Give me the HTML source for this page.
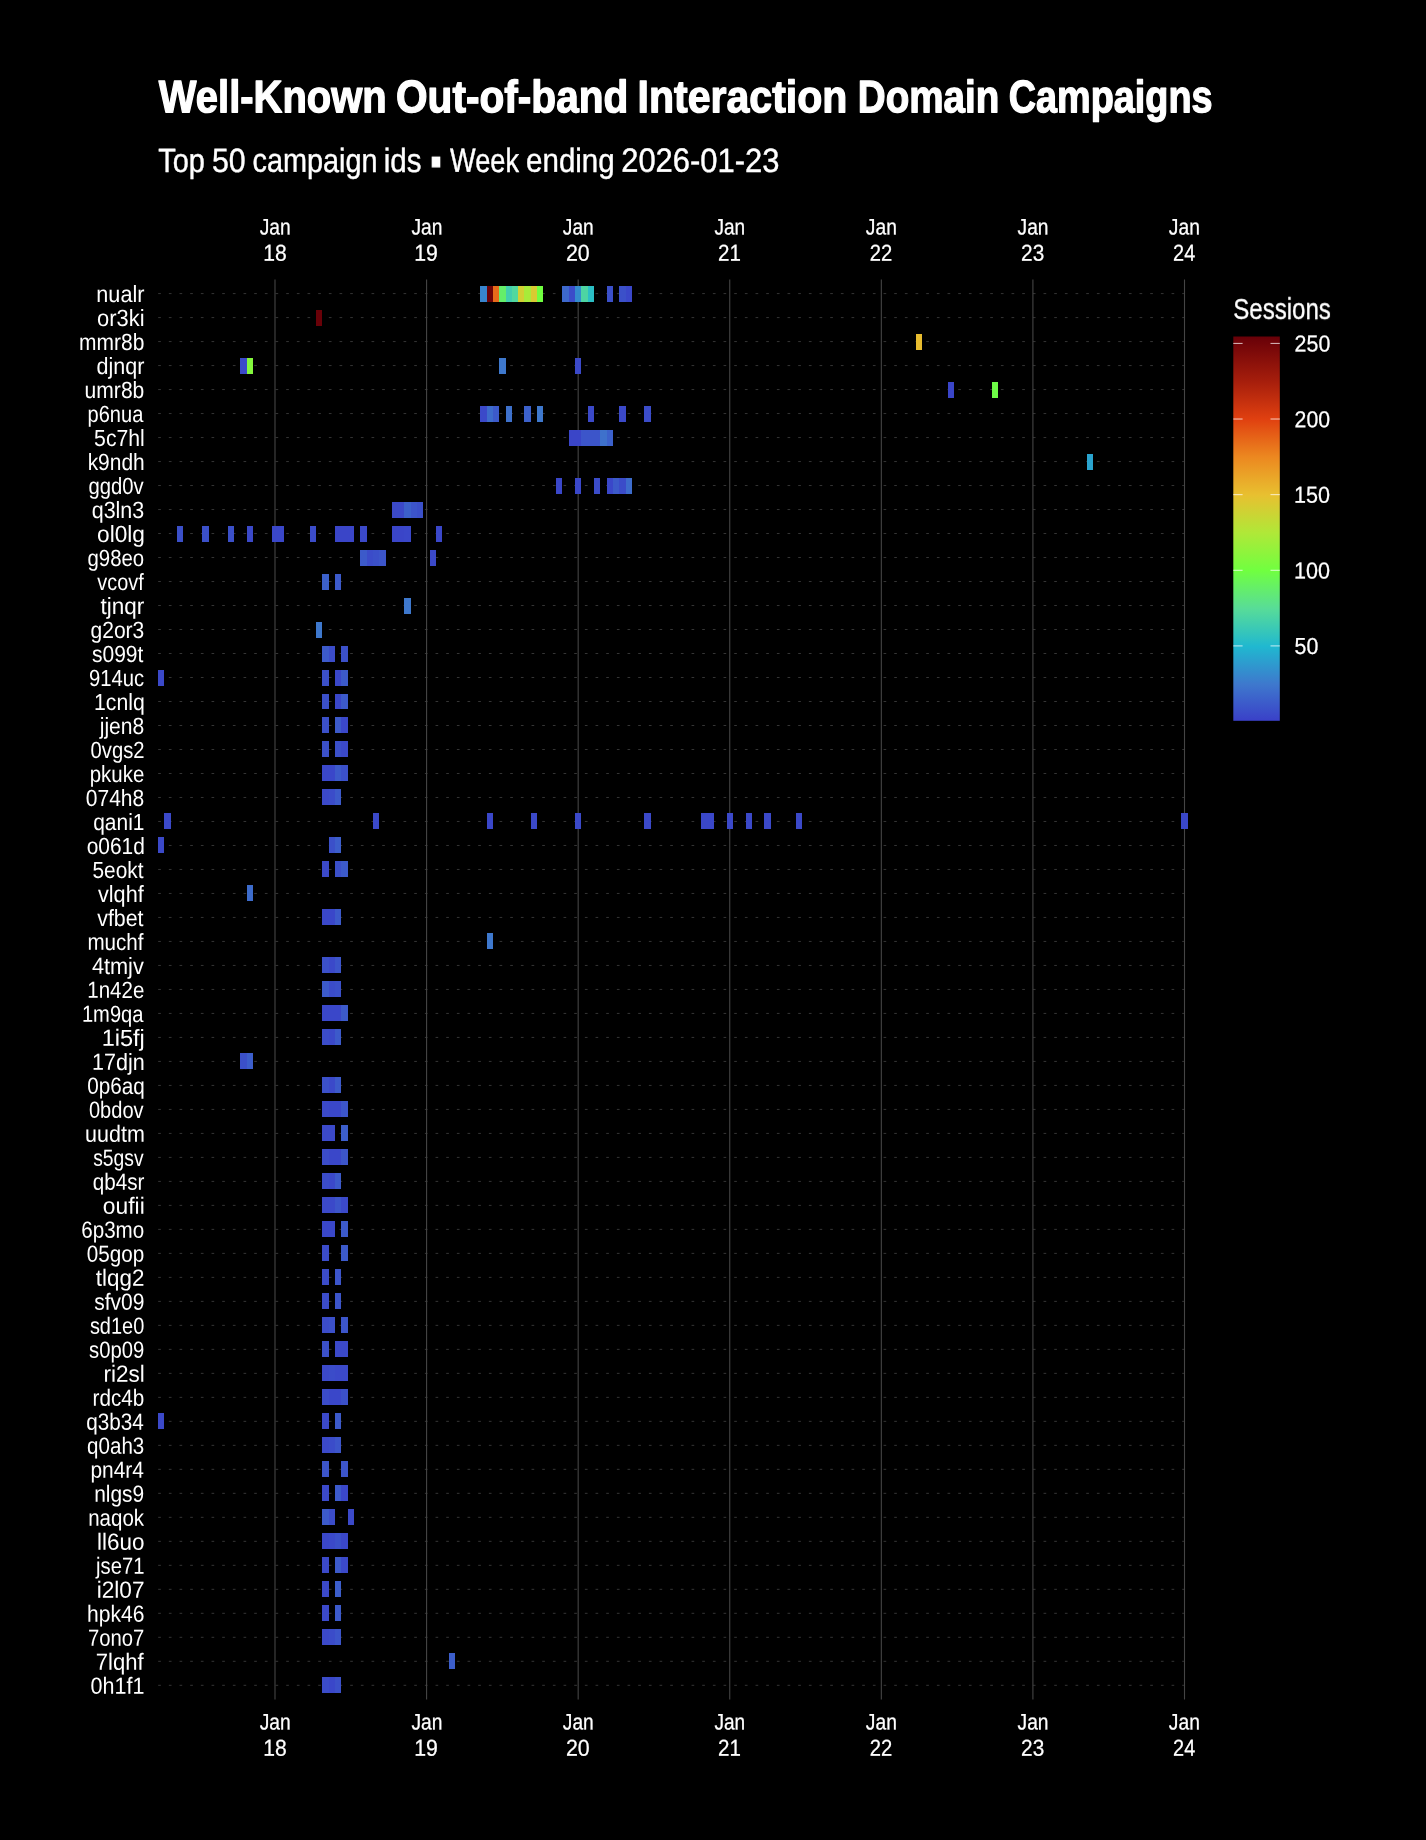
<!DOCTYPE html>
<html lang="en"><head><meta charset="utf-8"><title>Well-Known Out-of-band Interaction Domain Campaigns</title>
<style>html,body{margin:0;padding:0;background:#000;}body{width:1426px;height:1840px;overflow:hidden;}svg{display:block;}text{font-family:"Liberation Sans", sans-serif;fill:#fff;stroke-linejoin:round;}</style>
</head><body>
<svg style="will-change:transform" width="1426" height="1840" viewBox="0 0 1426 1840">
<rect width="1426" height="1840" fill="#000"/>
<defs><mask id="m" maskUnits="userSpaceOnUse" x="0" y="0" width="1426" height="1840"><rect width="1426" height="1840" fill="#fff"/></mask></defs>
<g mask="url(#m)">
<g stroke="#353535" stroke-width="1" stroke-dasharray="2.667 8" fill="none">
<line x1="158.20" y1="293.58" x2="1187.60" y2="293.58"/>
<line x1="158.20" y1="317.58" x2="1187.60" y2="317.58"/>
<line x1="158.20" y1="341.57" x2="1187.60" y2="341.57"/>
<line x1="158.20" y1="365.57" x2="1187.60" y2="365.57"/>
<line x1="158.20" y1="389.56" x2="1187.60" y2="389.56"/>
<line x1="158.20" y1="413.56" x2="1187.60" y2="413.56"/>
<line x1="158.20" y1="437.55" x2="1187.60" y2="437.55"/>
<line x1="158.20" y1="461.55" x2="1187.60" y2="461.55"/>
<line x1="158.20" y1="485.54" x2="1187.60" y2="485.54"/>
<line x1="158.20" y1="509.54" x2="1187.60" y2="509.54"/>
<line x1="158.20" y1="533.53" x2="1187.60" y2="533.53"/>
<line x1="158.20" y1="557.53" x2="1187.60" y2="557.53"/>
<line x1="158.20" y1="581.52" x2="1187.60" y2="581.52"/>
<line x1="158.20" y1="605.52" x2="1187.60" y2="605.52"/>
<line x1="158.20" y1="629.51" x2="1187.60" y2="629.51"/>
<line x1="158.20" y1="653.51" x2="1187.60" y2="653.51"/>
<line x1="158.20" y1="677.50" x2="1187.60" y2="677.50"/>
<line x1="158.20" y1="701.50" x2="1187.60" y2="701.50"/>
<line x1="158.20" y1="725.50" x2="1187.60" y2="725.50"/>
<line x1="158.20" y1="749.49" x2="1187.60" y2="749.49"/>
<line x1="158.20" y1="773.49" x2="1187.60" y2="773.49"/>
<line x1="158.20" y1="797.48" x2="1187.60" y2="797.48"/>
<line x1="158.20" y1="821.47" x2="1187.60" y2="821.47"/>
<line x1="158.20" y1="845.47" x2="1187.60" y2="845.47"/>
<line x1="158.20" y1="869.46" x2="1187.60" y2="869.46"/>
<line x1="158.20" y1="893.46" x2="1187.60" y2="893.46"/>
<line x1="158.20" y1="917.45" x2="1187.60" y2="917.45"/>
<line x1="158.20" y1="941.45" x2="1187.60" y2="941.45"/>
<line x1="158.20" y1="965.44" x2="1187.60" y2="965.44"/>
<line x1="158.20" y1="989.44" x2="1187.60" y2="989.44"/>
<line x1="158.20" y1="1013.43" x2="1187.60" y2="1013.43"/>
<line x1="158.20" y1="1037.43" x2="1187.60" y2="1037.43"/>
<line x1="158.20" y1="1061.42" x2="1187.60" y2="1061.42"/>
<line x1="158.20" y1="1085.42" x2="1187.60" y2="1085.42"/>
<line x1="158.20" y1="1109.41" x2="1187.60" y2="1109.41"/>
<line x1="158.20" y1="1133.41" x2="1187.60" y2="1133.41"/>
<line x1="158.20" y1="1157.40" x2="1187.60" y2="1157.40"/>
<line x1="158.20" y1="1181.40" x2="1187.60" y2="1181.40"/>
<line x1="158.20" y1="1205.39" x2="1187.60" y2="1205.39"/>
<line x1="158.20" y1="1229.39" x2="1187.60" y2="1229.39"/>
<line x1="158.20" y1="1253.38" x2="1187.60" y2="1253.38"/>
<line x1="158.20" y1="1277.38" x2="1187.60" y2="1277.38"/>
<line x1="158.20" y1="1301.38" x2="1187.60" y2="1301.38"/>
<line x1="158.20" y1="1325.37" x2="1187.60" y2="1325.37"/>
<line x1="158.20" y1="1349.37" x2="1187.60" y2="1349.37"/>
<line x1="158.20" y1="1373.36" x2="1187.60" y2="1373.36"/>
<line x1="158.20" y1="1397.36" x2="1187.60" y2="1397.36"/>
<line x1="158.20" y1="1421.35" x2="1187.60" y2="1421.35"/>
<line x1="158.20" y1="1445.35" x2="1187.60" y2="1445.35"/>
<line x1="158.20" y1="1469.34" x2="1187.60" y2="1469.34"/>
<line x1="158.20" y1="1493.34" x2="1187.60" y2="1493.34"/>
<line x1="158.20" y1="1517.33" x2="1187.60" y2="1517.33"/>
<line x1="158.20" y1="1541.33" x2="1187.60" y2="1541.33"/>
<line x1="158.20" y1="1565.32" x2="1187.60" y2="1565.32"/>
<line x1="158.20" y1="1589.32" x2="1187.60" y2="1589.32"/>
<line x1="158.20" y1="1613.31" x2="1187.60" y2="1613.31"/>
<line x1="158.20" y1="1637.31" x2="1187.60" y2="1637.31"/>
<line x1="158.20" y1="1661.30" x2="1187.60" y2="1661.30"/>
<line x1="158.20" y1="1685.30" x2="1187.60" y2="1685.30"/>
</g>
<g stroke="#454545" stroke-width="1.1" fill="none">
<line x1="275.00" y1="279.40" x2="275.00" y2="1699.50"/>
<line x1="426.58" y1="279.40" x2="426.58" y2="1699.50"/>
<line x1="578.17" y1="279.40" x2="578.17" y2="1699.50"/>
<line x1="729.75" y1="279.40" x2="729.75" y2="1699.50"/>
<line x1="881.33" y1="279.40" x2="881.33" y2="1699.50"/>
<line x1="1032.91" y1="279.40" x2="1032.91" y2="1699.50"/>
<line x1="1184.50" y1="279.40" x2="1184.50" y2="1699.50"/>
</g>
<g>
<rect x="480" y="286" width="7" height="16" fill="#3885ce"/>
<rect x="487" y="286" width="6" height="16" fill="#6d0308"/>
<rect x="493" y="286" width="6" height="16" fill="#e76b1a"/>
<rect x="499" y="286" width="7" height="16" fill="#64ee6a"/>
<rect x="506" y="286" width="6" height="16" fill="#42ceae"/>
<rect x="512" y="286" width="6" height="16" fill="#51d89f"/>
<rect x="518" y="286" width="6" height="16" fill="#d2d033"/>
<rect x="524" y="286" width="7" height="16" fill="#a8eb39"/>
<rect x="531" y="286" width="6" height="16" fill="#d8cb32"/>
<rect x="537" y="286" width="6" height="16" fill="#70ff40"/>
<rect x="562" y="286" width="7" height="16" fill="#3d68cc"/>
<rect x="569" y="286" width="6" height="16" fill="#3b4cc9"/>
<rect x="575" y="286" width="6" height="16" fill="#348cce"/>
<rect x="581" y="286" width="7" height="16" fill="#4dd5a3"/>
<rect x="588" y="286" width="6" height="16" fill="#2bbfc5"/>
<rect x="607" y="286" width="6" height="16" fill="#3b50c9"/>
<rect x="619" y="286" width="7" height="16" fill="#3b50c9"/>
<rect x="626" y="286" width="6" height="16" fill="#3a47c9"/>
<rect x="316" y="310" width="6" height="16" fill="#690108"/>
<rect x="916" y="334" width="6" height="16" fill="#e8bc2f"/>
<rect x="240" y="358" width="7" height="16" fill="#3b49c9"/>
<rect x="247" y="358" width="6" height="16" fill="#84f83d"/>
<rect x="499" y="358" width="7" height="16" fill="#3e78cd"/>
<rect x="575" y="358" width="6" height="16" fill="#3b49c9"/>
<rect x="948" y="382" width="6" height="16" fill="#3a45c8"/>
<rect x="992" y="382" width="6" height="16" fill="#6efc47"/>
<rect x="480" y="406" width="7" height="16" fill="#3b49c9"/>
<rect x="487" y="406" width="6" height="16" fill="#3d6ccc"/>
<rect x="493" y="406" width="6" height="16" fill="#3c5aca"/>
<rect x="506" y="406" width="6" height="16" fill="#3e71cc"/>
<rect x="524" y="406" width="7" height="16" fill="#3c61cb"/>
<rect x="537" y="406" width="6" height="16" fill="#3e78cd"/>
<rect x="588" y="406" width="6" height="16" fill="#3b49c9"/>
<rect x="619" y="406" width="7" height="16" fill="#3b49c9"/>
<rect x="644" y="406" width="7" height="16" fill="#3b4cc9"/>
<rect x="569" y="430" width="6" height="16" fill="#3a45c8"/>
<rect x="575" y="430" width="6" height="16" fill="#3a45c8"/>
<rect x="581" y="430" width="7" height="16" fill="#3c55ca"/>
<rect x="588" y="430" width="6" height="16" fill="#3c55ca"/>
<rect x="594" y="430" width="6" height="16" fill="#3c55ca"/>
<rect x="600" y="430" width="7" height="16" fill="#3e71cc"/>
<rect x="607" y="430" width="6" height="16" fill="#3c61cb"/>
<rect x="1087" y="454" width="6" height="16" fill="#2aa4cf"/>
<rect x="556" y="478" width="6" height="16" fill="#3a47c9"/>
<rect x="575" y="478" width="6" height="16" fill="#3a47c9"/>
<rect x="594" y="478" width="6" height="16" fill="#3b4cc9"/>
<rect x="607" y="478" width="6" height="16" fill="#3a47c9"/>
<rect x="613" y="478" width="6" height="16" fill="#3c5aca"/>
<rect x="619" y="478" width="7" height="16" fill="#3b4cc9"/>
<rect x="626" y="478" width="6" height="16" fill="#3d6ccc"/>
<rect x="392" y="502" width="6" height="16" fill="#3b49c9"/>
<rect x="398" y="502" width="6" height="16" fill="#3b49c9"/>
<rect x="404" y="502" width="7" height="16" fill="#3c61cb"/>
<rect x="411" y="502" width="6" height="16" fill="#3c55ca"/>
<rect x="417" y="502" width="6" height="16" fill="#3b50c9"/>
<rect x="177" y="526" width="6" height="16" fill="#3b50c9"/>
<rect x="202" y="526" width="7" height="16" fill="#3b50c9"/>
<rect x="228" y="526" width="6" height="16" fill="#3b50c9"/>
<rect x="247" y="526" width="6" height="16" fill="#3b49c9"/>
<rect x="272" y="526" width="6" height="16" fill="#3a47c9"/>
<rect x="278" y="526" width="6" height="16" fill="#3a47c9"/>
<rect x="310" y="526" width="6" height="16" fill="#3b4cc9"/>
<rect x="335" y="526" width="6" height="16" fill="#3a45c8"/>
<rect x="341" y="526" width="7" height="16" fill="#3a45c8"/>
<rect x="348" y="526" width="6" height="16" fill="#3a45c8"/>
<rect x="360" y="526" width="7" height="16" fill="#3b49c9"/>
<rect x="392" y="526" width="6" height="16" fill="#3a45c8"/>
<rect x="398" y="526" width="6" height="16" fill="#3a45c8"/>
<rect x="404" y="526" width="7" height="16" fill="#3a47c9"/>
<rect x="436" y="526" width="6" height="16" fill="#3a47c9"/>
<rect x="360" y="550" width="7" height="16" fill="#3c5aca"/>
<rect x="367" y="550" width="6" height="16" fill="#3b4cc9"/>
<rect x="373" y="550" width="6" height="16" fill="#3b50c9"/>
<rect x="379" y="550" width="7" height="16" fill="#3c55ca"/>
<rect x="430" y="550" width="6" height="16" fill="#3b49c9"/>
<rect x="322" y="574" width="7" height="16" fill="#3c61cb"/>
<rect x="335" y="574" width="6" height="16" fill="#3c5aca"/>
<rect x="404" y="598" width="7" height="16" fill="#3e78cd"/>
<rect x="316" y="622" width="6" height="16" fill="#3e78cd"/>
<rect x="322" y="646" width="7" height="16" fill="#3c5aca"/>
<rect x="329" y="646" width="6" height="16" fill="#3b4cc9"/>
<rect x="341" y="646" width="7" height="16" fill="#3b50c9"/>
<rect x="158" y="670" width="6" height="16" fill="#3b49c9"/>
<rect x="322" y="670" width="7" height="16" fill="#3b50c9"/>
<rect x="335" y="670" width="6" height="16" fill="#3a47c9"/>
<rect x="341" y="670" width="7" height="16" fill="#3c5aca"/>
<rect x="322" y="694" width="7" height="15" fill="#3b50c9"/>
<rect x="335" y="694" width="6" height="15" fill="#3a47c9"/>
<rect x="341" y="694" width="7" height="15" fill="#3c5aca"/>
<rect x="322" y="717" width="7" height="16" fill="#3b50c9"/>
<rect x="335" y="717" width="6" height="16" fill="#3c5aca"/>
<rect x="341" y="717" width="7" height="16" fill="#3a47c9"/>
<rect x="322" y="741" width="7" height="16" fill="#3b50c9"/>
<rect x="335" y="741" width="6" height="16" fill="#3b50c9"/>
<rect x="341" y="741" width="7" height="16" fill="#3b49c9"/>
<rect x="322" y="765" width="7" height="16" fill="#3a47c9"/>
<rect x="329" y="765" width="6" height="16" fill="#3a47c9"/>
<rect x="335" y="765" width="6" height="16" fill="#3c5aca"/>
<rect x="341" y="765" width="7" height="16" fill="#3b50c9"/>
<rect x="322" y="789" width="7" height="16" fill="#3b49c9"/>
<rect x="329" y="789" width="6" height="16" fill="#3b4cc9"/>
<rect x="335" y="789" width="6" height="16" fill="#3c5aca"/>
<rect x="164" y="813" width="7" height="16" fill="#3b49c9"/>
<rect x="373" y="813" width="6" height="16" fill="#3b49c9"/>
<rect x="487" y="813" width="6" height="16" fill="#3a47c9"/>
<rect x="531" y="813" width="6" height="16" fill="#3b49c9"/>
<rect x="575" y="813" width="6" height="16" fill="#3b49c9"/>
<rect x="644" y="813" width="7" height="16" fill="#3b49c9"/>
<rect x="701" y="813" width="7" height="16" fill="#3a47c9"/>
<rect x="708" y="813" width="6" height="16" fill="#3a47c9"/>
<rect x="727" y="813" width="6" height="16" fill="#3b49c9"/>
<rect x="746" y="813" width="6" height="16" fill="#3b49c9"/>
<rect x="764" y="813" width="7" height="16" fill="#3b49c9"/>
<rect x="796" y="813" width="6" height="16" fill="#3b49c9"/>
<rect x="1181" y="813" width="7" height="16" fill="#3a47c9"/>
<rect x="158" y="837" width="6" height="16" fill="#3b49c9"/>
<rect x="329" y="837" width="6" height="16" fill="#3b50c9"/>
<rect x="335" y="837" width="6" height="16" fill="#3c5ecb"/>
<rect x="322" y="861" width="7" height="16" fill="#3b49c9"/>
<rect x="335" y="861" width="6" height="16" fill="#3b50c9"/>
<rect x="341" y="861" width="7" height="16" fill="#3c5aca"/>
<rect x="247" y="885" width="6" height="16" fill="#3d6ccc"/>
<rect x="322" y="909" width="7" height="16" fill="#3a47c9"/>
<rect x="329" y="909" width="6" height="16" fill="#3a47c9"/>
<rect x="335" y="909" width="6" height="16" fill="#3c5aca"/>
<rect x="487" y="933" width="6" height="16" fill="#3e78cd"/>
<rect x="322" y="957" width="7" height="16" fill="#3b50c9"/>
<rect x="329" y="957" width="6" height="16" fill="#3b49c9"/>
<rect x="335" y="957" width="6" height="16" fill="#3c55ca"/>
<rect x="322" y="981" width="7" height="16" fill="#3c5aca"/>
<rect x="329" y="981" width="6" height="16" fill="#3b4cc9"/>
<rect x="335" y="981" width="6" height="16" fill="#3b50c9"/>
<rect x="322" y="1005" width="7" height="16" fill="#3a47c9"/>
<rect x="329" y="1005" width="6" height="16" fill="#3a47c9"/>
<rect x="335" y="1005" width="6" height="16" fill="#3a47c9"/>
<rect x="341" y="1005" width="7" height="16" fill="#3c5aca"/>
<rect x="322" y="1029" width="7" height="16" fill="#3b4cc9"/>
<rect x="329" y="1029" width="6" height="16" fill="#3b49c9"/>
<rect x="335" y="1029" width="6" height="16" fill="#3c5aca"/>
<rect x="240" y="1053" width="7" height="16" fill="#3b50c9"/>
<rect x="247" y="1053" width="6" height="16" fill="#3c5ecb"/>
<rect x="322" y="1077" width="7" height="16" fill="#3b50c9"/>
<rect x="329" y="1077" width="6" height="16" fill="#3b49c9"/>
<rect x="335" y="1077" width="6" height="16" fill="#3c5aca"/>
<rect x="322" y="1101" width="7" height="16" fill="#3b49c9"/>
<rect x="329" y="1101" width="6" height="16" fill="#3a47c9"/>
<rect x="335" y="1101" width="6" height="16" fill="#3a47c9"/>
<rect x="341" y="1101" width="7" height="16" fill="#3c55ca"/>
<rect x="322" y="1125" width="7" height="16" fill="#3b49c9"/>
<rect x="329" y="1125" width="6" height="16" fill="#3b49c9"/>
<rect x="341" y="1125" width="7" height="16" fill="#3c5ecb"/>
<rect x="322" y="1149" width="7" height="16" fill="#3b4cc9"/>
<rect x="329" y="1149" width="6" height="16" fill="#3a47c9"/>
<rect x="335" y="1149" width="6" height="16" fill="#3a47c9"/>
<rect x="341" y="1149" width="7" height="16" fill="#3c55ca"/>
<rect x="322" y="1173" width="7" height="16" fill="#3b4cc9"/>
<rect x="329" y="1173" width="6" height="16" fill="#3b49c9"/>
<rect x="335" y="1173" width="6" height="16" fill="#3c5aca"/>
<rect x="322" y="1197" width="7" height="16" fill="#3b49c9"/>
<rect x="329" y="1197" width="6" height="16" fill="#3b49c9"/>
<rect x="335" y="1197" width="6" height="16" fill="#3c55ca"/>
<rect x="341" y="1197" width="7" height="16" fill="#3b49c9"/>
<rect x="322" y="1221" width="7" height="16" fill="#3a47c9"/>
<rect x="329" y="1221" width="6" height="16" fill="#3a47c9"/>
<rect x="341" y="1221" width="7" height="16" fill="#3c5aca"/>
<rect x="322" y="1245" width="7" height="16" fill="#3b4cc9"/>
<rect x="341" y="1245" width="7" height="16" fill="#3c5aca"/>
<rect x="322" y="1269" width="7" height="16" fill="#3b4cc9"/>
<rect x="335" y="1269" width="6" height="16" fill="#3c55ca"/>
<rect x="322" y="1293" width="7" height="16" fill="#3b4cc9"/>
<rect x="335" y="1293" width="6" height="16" fill="#3c55ca"/>
<rect x="322" y="1317" width="7" height="16" fill="#3b4cc9"/>
<rect x="329" y="1317" width="6" height="16" fill="#3b50c9"/>
<rect x="341" y="1317" width="7" height="16" fill="#3c55ca"/>
<rect x="322" y="1341" width="7" height="16" fill="#3b50c9"/>
<rect x="335" y="1341" width="6" height="16" fill="#3b49c9"/>
<rect x="341" y="1341" width="7" height="16" fill="#3b49c9"/>
<rect x="322" y="1365" width="7" height="16" fill="#3b49c9"/>
<rect x="329" y="1365" width="6" height="16" fill="#3b4cc9"/>
<rect x="335" y="1365" width="6" height="16" fill="#3b49c9"/>
<rect x="341" y="1365" width="7" height="16" fill="#3b49c9"/>
<rect x="322" y="1389" width="7" height="16" fill="#3b4cc9"/>
<rect x="329" y="1389" width="6" height="16" fill="#3a47c9"/>
<rect x="335" y="1389" width="6" height="16" fill="#3a47c9"/>
<rect x="341" y="1389" width="7" height="16" fill="#3b50c9"/>
<rect x="158" y="1413" width="6" height="16" fill="#3b49c9"/>
<rect x="322" y="1413" width="7" height="16" fill="#3b49c9"/>
<rect x="335" y="1413" width="6" height="16" fill="#3c5aca"/>
<rect x="322" y="1437" width="7" height="16" fill="#3b49c9"/>
<rect x="329" y="1437" width="6" height="16" fill="#3b4cc9"/>
<rect x="335" y="1437" width="6" height="16" fill="#3c55ca"/>
<rect x="322" y="1461" width="7" height="16" fill="#3c55ca"/>
<rect x="341" y="1461" width="7" height="16" fill="#3c55ca"/>
<rect x="322" y="1485" width="7" height="16" fill="#3b49c9"/>
<rect x="335" y="1485" width="6" height="16" fill="#3c5aca"/>
<rect x="341" y="1485" width="7" height="16" fill="#3a47c9"/>
<rect x="322" y="1509" width="7" height="16" fill="#3c5aca"/>
<rect x="329" y="1509" width="6" height="16" fill="#3b4cc9"/>
<rect x="348" y="1509" width="6" height="16" fill="#3b49c9"/>
<rect x="322" y="1533" width="7" height="16" fill="#3a47c9"/>
<rect x="329" y="1533" width="6" height="16" fill="#3b49c9"/>
<rect x="335" y="1533" width="6" height="16" fill="#3b50c9"/>
<rect x="341" y="1533" width="7" height="16" fill="#3a47c9"/>
<rect x="322" y="1557" width="7" height="16" fill="#3b49c9"/>
<rect x="335" y="1557" width="6" height="16" fill="#3c5aca"/>
<rect x="341" y="1557" width="7" height="16" fill="#3b49c9"/>
<rect x="322" y="1581" width="7" height="16" fill="#3b49c9"/>
<rect x="335" y="1581" width="6" height="16" fill="#3c5ecb"/>
<rect x="322" y="1605" width="7" height="16" fill="#3b49c9"/>
<rect x="335" y="1605" width="6" height="16" fill="#3c5aca"/>
<rect x="322" y="1629" width="7" height="16" fill="#3b49c9"/>
<rect x="329" y="1629" width="6" height="16" fill="#3b4cc9"/>
<rect x="335" y="1629" width="6" height="16" fill="#3c55ca"/>
<rect x="449" y="1653" width="6" height="16" fill="#3c5ecb"/>
<rect x="322" y="1677" width="7" height="16" fill="#3b4cc9"/>
<rect x="329" y="1677" width="6" height="16" fill="#3a47c9"/>
<rect x="335" y="1677" width="6" height="16" fill="#3b50c9"/>
</g>
<g class="title">
<text transform="translate(272.76 112.25) skewY(0.06)" x="-113.94" font-size="45.5" textLength="227.87" lengthAdjust="spacingAndGlyphs" font-weight="bold" stroke="#fff" stroke-width="1.30">Well-Known</text>
<text transform="translate(512.17 112.25) skewY(0.06)" x="-116.20" font-size="45.5" textLength="232.40" lengthAdjust="spacingAndGlyphs" font-weight="bold" stroke="#fff" stroke-width="1.30">Out-of-band</text>
<text transform="translate(742.48 112.25) skewY(0.06)" x="-104.89" font-size="45.5" textLength="209.79" lengthAdjust="spacingAndGlyphs" font-weight="bold" stroke="#fff" stroke-width="1.30">Interaction</text>
<text transform="translate(928.61 112.25) skewY(0.06)" x="-70.81" font-size="45.5" textLength="141.61" lengthAdjust="spacingAndGlyphs" font-weight="bold" stroke="#fff" stroke-width="1.30">Domain</text>
<text transform="translate(1110.59 112.25) skewY(0.06)" x="-101.94" font-size="45.5" textLength="203.89" lengthAdjust="spacingAndGlyphs" font-weight="bold" stroke="#fff" stroke-width="1.30">Campaigns</text>
</g>
<g class="sub">
<text transform="translate(436.05 175.60) skewY(0.06)" x="-6.11" font-size="44.0" textLength="12.21" lengthAdjust="spacingAndGlyphs">▪</text>
<text transform="translate(181.58 171.90) skewY(0.06)" x="-23.28" font-size="33.7" textLength="46.56" lengthAdjust="spacingAndGlyphs" stroke="#fff" stroke-width="0.40">Top</text>
<text transform="translate(228.78 171.90) skewY(0.06)" x="-16.87" font-size="33.7" textLength="33.74" lengthAdjust="spacingAndGlyphs" stroke="#fff" stroke-width="0.40">50</text>
<text transform="translate(314.99 171.90) skewY(0.06)" x="-62.53" font-size="33.7" textLength="125.07" lengthAdjust="spacingAndGlyphs" stroke="#fff" stroke-width="0.40">campaign</text>
<text transform="translate(402.58 171.90) skewY(0.06)" x="-18.89" font-size="33.7" textLength="37.78" lengthAdjust="spacingAndGlyphs" stroke="#fff" stroke-width="0.40">ids</text>
<text transform="translate(484.52 171.90) skewY(0.06)" x="-34.48" font-size="33.7" textLength="68.95" lengthAdjust="spacingAndGlyphs" stroke="#fff" stroke-width="0.40">Week</text>
<text transform="translate(570.37 171.90) skewY(0.06)" x="-44.31" font-size="33.7" textLength="88.62" lengthAdjust="spacingAndGlyphs" stroke="#fff" stroke-width="0.40">ending</text>
<text transform="translate(700.33 171.90) skewY(0.06)" x="-79.16" font-size="33.7" textLength="158.32" lengthAdjust="spacingAndGlyphs" stroke="#fff" stroke-width="0.40">2026-01-23</text>
</g>
<g class="ylab">
<text transform="translate(120.36 302.03) skewY(0.06)" x="-24.06" font-size="23.4" textLength="48.12" lengthAdjust="spacingAndGlyphs">nualr</text>
<text transform="translate(120.79 326.03) skewY(0.06)" x="-23.74" font-size="23.4" textLength="47.48" lengthAdjust="spacingAndGlyphs">or3ki</text>
<text transform="translate(111.68 350.02) skewY(0.06)" x="-32.62" font-size="23.4" textLength="65.23" lengthAdjust="spacingAndGlyphs">mmr8b</text>
<text transform="translate(120.35 374.02) skewY(0.06)" x="-23.96" font-size="23.4" textLength="47.92" lengthAdjust="spacingAndGlyphs">djnqr</text>
<text transform="translate(114.47 398.01) skewY(0.06)" x="-29.86" font-size="23.4" textLength="59.72" lengthAdjust="spacingAndGlyphs">umr8b</text>
<text transform="translate(115.41 422.01) skewY(0.06)" x="-27.84" font-size="23.4" textLength="55.69" lengthAdjust="spacingAndGlyphs">p6nua</text>
<text transform="translate(119.48 446.00) skewY(0.06)" x="-25.36" font-size="23.4" textLength="50.71" lengthAdjust="spacingAndGlyphs">5c7hl</text>
<text transform="translate(116.19 470.00) skewY(0.06)" x="-28.55" font-size="23.4" textLength="57.11" lengthAdjust="spacingAndGlyphs">k9ndh</text>
<text transform="translate(116.06 493.99) skewY(0.06)" x="-27.61" font-size="23.4" textLength="55.23" lengthAdjust="spacingAndGlyphs">ggd0v</text>
<text transform="translate(117.97 517.99) skewY(0.06)" x="-26.30" font-size="23.4" textLength="52.61" lengthAdjust="spacingAndGlyphs">q3ln3</text>
<text transform="translate(120.98 541.99) skewY(0.06)" x="-23.93" font-size="23.4" textLength="47.87" lengthAdjust="spacingAndGlyphs">ol0lg</text>
<text transform="translate(115.79 565.98) skewY(0.06)" x="-28.34" font-size="23.4" textLength="56.67" lengthAdjust="spacingAndGlyphs">g98eo</text>
<text transform="translate(120.52 589.98) skewY(0.06)" x="-23.18" font-size="23.4" textLength="46.35" lengthAdjust="spacingAndGlyphs">vcovf</text>
<text transform="translate(122.29 613.97) skewY(0.06)" x="-21.91" font-size="23.4" textLength="43.83" lengthAdjust="spacingAndGlyphs">tjnqr</text>
<text transform="translate(117.41 637.97) skewY(0.06)" x="-26.90" font-size="23.4" textLength="53.80" lengthAdjust="spacingAndGlyphs">g2or3</text>
<text transform="translate(117.64 661.96) skewY(0.06)" x="-25.74" font-size="23.4" textLength="51.48" lengthAdjust="spacingAndGlyphs">s099t</text>
<text transform="translate(116.48 685.96) skewY(0.06)" x="-27.59" font-size="23.4" textLength="55.18" lengthAdjust="spacingAndGlyphs">914uc</text>
<text transform="translate(119.37 709.95) skewY(0.06)" x="-25.39" font-size="23.4" textLength="50.78" lengthAdjust="spacingAndGlyphs">1cnlq</text>
<text transform="translate(122.00 733.95) skewY(0.06)" x="-22.29" font-size="23.4" textLength="44.57" lengthAdjust="spacingAndGlyphs">jjen8</text>
<text transform="translate(117.51 757.94) skewY(0.06)" x="-26.96" font-size="23.4" textLength="53.92" lengthAdjust="spacingAndGlyphs">0vgs2</text>
<text transform="translate(117.00 781.94) skewY(0.06)" x="-27.27" font-size="23.4" textLength="54.54" lengthAdjust="spacingAndGlyphs">pkuke</text>
<text transform="translate(115.03 805.93) skewY(0.06)" x="-29.22" font-size="23.4" textLength="58.44" lengthAdjust="spacingAndGlyphs">074h8</text>
<text transform="translate(118.83 829.92) skewY(0.06)" x="-25.60" font-size="23.4" textLength="51.20" lengthAdjust="spacingAndGlyphs">qani1</text>
<text transform="translate(115.70 853.92) skewY(0.06)" x="-29.06" font-size="23.4" textLength="58.12" lengthAdjust="spacingAndGlyphs">o061d</text>
<text transform="translate(117.95 877.91) skewY(0.06)" x="-25.50" font-size="23.4" textLength="50.99" lengthAdjust="spacingAndGlyphs">5eokt</text>
<text transform="translate(120.84 901.91) skewY(0.06)" x="-22.88" font-size="23.4" textLength="45.75" lengthAdjust="spacingAndGlyphs">vlqhf</text>
<text transform="translate(120.37 925.90) skewY(0.06)" x="-23.18" font-size="23.4" textLength="46.36" lengthAdjust="spacingAndGlyphs">vfbet</text>
<text transform="translate(115.48 949.90) skewY(0.06)" x="-28.07" font-size="23.4" textLength="56.15" lengthAdjust="spacingAndGlyphs">muchf</text>
<text transform="translate(117.85 973.89) skewY(0.06)" x="-25.95" font-size="23.4" textLength="51.90" lengthAdjust="spacingAndGlyphs">4tmjv</text>
<text transform="translate(115.82 997.89) skewY(0.06)" x="-28.55" font-size="23.4" textLength="57.10" lengthAdjust="spacingAndGlyphs">1n42e</text>
<text transform="translate(112.69 1021.88) skewY(0.06)" x="-30.78" font-size="23.4" textLength="61.56" lengthAdjust="spacingAndGlyphs">1m9qa</text>
<text transform="translate(123.22 1045.88) skewY(0.06)" x="-21.60" font-size="23.4" textLength="43.20" lengthAdjust="spacingAndGlyphs">1i5fj</text>
<text transform="translate(118.35 1069.88) skewY(0.06)" x="-26.37" font-size="23.4" textLength="52.74" lengthAdjust="spacingAndGlyphs">17djn</text>
<text transform="translate(115.96 1093.87) skewY(0.06)" x="-28.76" font-size="23.4" textLength="57.52" lengthAdjust="spacingAndGlyphs">0p6aq</text>
<text transform="translate(116.25 1117.87) skewY(0.06)" x="-27.32" font-size="23.4" textLength="54.65" lengthAdjust="spacingAndGlyphs">0bdov</text>
<text transform="translate(114.96 1141.86) skewY(0.06)" x="-29.86" font-size="23.4" textLength="59.73" lengthAdjust="spacingAndGlyphs">uudtm</text>
<text transform="translate(118.36 1165.86) skewY(0.06)" x="-25.18" font-size="23.4" textLength="50.35" lengthAdjust="spacingAndGlyphs">s5gsv</text>
<text transform="translate(118.50 1189.85) skewY(0.06)" x="-25.84" font-size="23.4" textLength="51.68" lengthAdjust="spacingAndGlyphs">qb4sr</text>
<text transform="translate(123.79 1213.85) skewY(0.06)" x="-20.93" font-size="23.4" textLength="41.86" lengthAdjust="spacingAndGlyphs">oufii</text>
<text transform="translate(112.72 1237.84) skewY(0.06)" x="-31.52" font-size="23.4" textLength="63.03" lengthAdjust="spacingAndGlyphs">6p3mo</text>
<text transform="translate(115.55 1261.84) skewY(0.06)" x="-28.75" font-size="23.4" textLength="57.49" lengthAdjust="spacingAndGlyphs">05gop</text>
<text transform="translate(120.11 1285.83) skewY(0.06)" x="-24.30" font-size="23.4" textLength="48.59" lengthAdjust="spacingAndGlyphs">tlqg2</text>
<text transform="translate(119.28 1309.83) skewY(0.06)" x="-25.10" font-size="23.4" textLength="50.20" lengthAdjust="spacingAndGlyphs">sfv09</text>
<text transform="translate(117.07 1333.82) skewY(0.06)" x="-27.19" font-size="23.4" textLength="54.38" lengthAdjust="spacingAndGlyphs">sd1e0</text>
<text transform="translate(116.66 1357.82) skewY(0.06)" x="-27.62" font-size="23.4" textLength="55.25" lengthAdjust="spacingAndGlyphs">s0p09</text>
<text transform="translate(124.21 1381.81) skewY(0.06)" x="-20.65" font-size="23.4" textLength="41.30" lengthAdjust="spacingAndGlyphs">ri2sl</text>
<text transform="translate(118.35 1405.81) skewY(0.06)" x="-25.86" font-size="23.4" textLength="51.73" lengthAdjust="spacingAndGlyphs">rdc4b</text>
<text transform="translate(115.03 1429.80) skewY(0.06)" x="-28.81" font-size="23.4" textLength="57.62" lengthAdjust="spacingAndGlyphs">q3b34</text>
<text transform="translate(115.69 1453.80) skewY(0.06)" x="-28.59" font-size="23.4" textLength="57.18" lengthAdjust="spacingAndGlyphs">q0ah3</text>
<text transform="translate(117.20 1477.79) skewY(0.06)" x="-26.77" font-size="23.4" textLength="53.53" lengthAdjust="spacingAndGlyphs">pn4r4</text>
<text transform="translate(119.21 1501.79) skewY(0.06)" x="-25.02" font-size="23.4" textLength="50.04" lengthAdjust="spacingAndGlyphs">nlgs9</text>
<text transform="translate(116.14 1525.78) skewY(0.06)" x="-27.91" font-size="23.4" textLength="55.81" lengthAdjust="spacingAndGlyphs">naqok</text>
<text transform="translate(120.68 1549.78) skewY(0.06)" x="-23.73" font-size="23.4" textLength="47.45" lengthAdjust="spacingAndGlyphs">ll6uo</text>
<text transform="translate(120.25 1573.77) skewY(0.06)" x="-24.18" font-size="23.4" textLength="48.37" lengthAdjust="spacingAndGlyphs">jse71</text>
<text transform="translate(120.62 1597.77) skewY(0.06)" x="-23.94" font-size="23.4" textLength="47.88" lengthAdjust="spacingAndGlyphs">i2l07</text>
<text transform="translate(115.74 1621.76) skewY(0.06)" x="-28.65" font-size="23.4" textLength="57.30" lengthAdjust="spacingAndGlyphs">hpk46</text>
<text transform="translate(116.17 1645.76) skewY(0.06)" x="-28.20" font-size="23.4" textLength="56.40" lengthAdjust="spacingAndGlyphs">7ono7</text>
<text transform="translate(119.64 1669.75) skewY(0.06)" x="-23.95" font-size="23.4" textLength="47.90" lengthAdjust="spacingAndGlyphs">7lqhf</text>
<text transform="translate(117.46 1693.75) skewY(0.06)" x="-26.97" font-size="23.4" textLength="53.94" lengthAdjust="spacingAndGlyphs">0h1f1</text>
</g>
<g class="xlab">
<text transform="translate(275.25 234.55) skewY(0.06)" x="-15.49" font-size="22.5" textLength="30.99" lengthAdjust="spacingAndGlyphs" stroke="#fff" stroke-width="0.25">Jan</text>
<text transform="translate(275.00 260.78) skewY(0.06)" x="-11.76" font-size="23.1" textLength="23.51" lengthAdjust="spacingAndGlyphs" stroke="#fff" stroke-width="0.25">18</text>
<text transform="translate(275.25 1729.55) skewY(0.06)" x="-15.49" font-size="22.5" textLength="30.99" lengthAdjust="spacingAndGlyphs" stroke="#fff" stroke-width="0.25">Jan</text>
<text transform="translate(275.00 1755.78) skewY(0.06)" x="-11.76" font-size="23.1" textLength="23.51" lengthAdjust="spacingAndGlyphs" stroke="#fff" stroke-width="0.25">18</text>
<text transform="translate(426.98 234.55) skewY(0.06)" x="-15.47" font-size="22.5" textLength="30.95" lengthAdjust="spacingAndGlyphs" stroke="#fff" stroke-width="0.25">Jan</text>
<text transform="translate(426.03 260.78) skewY(0.06)" x="-11.82" font-size="23.1" textLength="23.65" lengthAdjust="spacingAndGlyphs" stroke="#fff" stroke-width="0.25">19</text>
<text transform="translate(426.98 1729.55) skewY(0.06)" x="-15.47" font-size="22.5" textLength="30.95" lengthAdjust="spacingAndGlyphs" stroke="#fff" stroke-width="0.25">Jan</text>
<text transform="translate(426.03 1755.78) skewY(0.06)" x="-11.82" font-size="23.1" textLength="23.65" lengthAdjust="spacingAndGlyphs" stroke="#fff" stroke-width="0.25">19</text>
<text transform="translate(578.31 234.55) skewY(0.06)" x="-15.45" font-size="22.5" textLength="30.89" lengthAdjust="spacingAndGlyphs" stroke="#fff" stroke-width="0.25">Jan</text>
<text transform="translate(577.79 260.78) skewY(0.06)" x="-11.89" font-size="23.1" textLength="23.79" lengthAdjust="spacingAndGlyphs" stroke="#fff" stroke-width="0.25">20</text>
<text transform="translate(578.31 1729.55) skewY(0.06)" x="-15.45" font-size="22.5" textLength="30.89" lengthAdjust="spacingAndGlyphs" stroke="#fff" stroke-width="0.25">Jan</text>
<text transform="translate(577.79 1755.78) skewY(0.06)" x="-11.89" font-size="23.1" textLength="23.79" lengthAdjust="spacingAndGlyphs" stroke="#fff" stroke-width="0.25">20</text>
<text transform="translate(729.83 234.55) skewY(0.06)" x="-15.35" font-size="22.5" textLength="30.69" lengthAdjust="spacingAndGlyphs" stroke="#fff" stroke-width="0.25">Jan</text>
<text transform="translate(729.53 260.78) skewY(0.06)" x="-11.41" font-size="23.1" textLength="22.83" lengthAdjust="spacingAndGlyphs" stroke="#fff" stroke-width="0.25">21</text>
<text transform="translate(729.83 1729.55) skewY(0.06)" x="-15.35" font-size="22.5" textLength="30.69" lengthAdjust="spacingAndGlyphs" stroke="#fff" stroke-width="0.25">Jan</text>
<text transform="translate(729.53 1755.78) skewY(0.06)" x="-11.41" font-size="23.1" textLength="22.83" lengthAdjust="spacingAndGlyphs" stroke="#fff" stroke-width="0.25">21</text>
<text transform="translate(881.37 234.55) skewY(0.06)" x="-15.52" font-size="22.5" textLength="31.03" lengthAdjust="spacingAndGlyphs" stroke="#fff" stroke-width="0.25">Jan</text>
<text transform="translate(880.95 260.78) skewY(0.06)" x="-11.23" font-size="23.1" textLength="22.47" lengthAdjust="spacingAndGlyphs" stroke="#fff" stroke-width="0.25">22</text>
<text transform="translate(881.37 1729.55) skewY(0.06)" x="-15.52" font-size="22.5" textLength="31.03" lengthAdjust="spacingAndGlyphs" stroke="#fff" stroke-width="0.25">Jan</text>
<text transform="translate(880.95 1755.78) skewY(0.06)" x="-11.23" font-size="23.1" textLength="22.47" lengthAdjust="spacingAndGlyphs" stroke="#fff" stroke-width="0.25">22</text>
<text transform="translate(1033.00 234.55) skewY(0.06)" x="-15.48" font-size="22.5" textLength="30.97" lengthAdjust="spacingAndGlyphs" stroke="#fff" stroke-width="0.25">Jan</text>
<text transform="translate(1032.63 260.78) skewY(0.06)" x="-11.58" font-size="23.1" textLength="23.16" lengthAdjust="spacingAndGlyphs" stroke="#fff" stroke-width="0.25">23</text>
<text transform="translate(1033.00 1729.55) skewY(0.06)" x="-15.48" font-size="22.5" textLength="30.97" lengthAdjust="spacingAndGlyphs" stroke="#fff" stroke-width="0.25">Jan</text>
<text transform="translate(1032.63 1755.78) skewY(0.06)" x="-11.58" font-size="23.1" textLength="23.16" lengthAdjust="spacingAndGlyphs" stroke="#fff" stroke-width="0.25">23</text>
<text transform="translate(1184.35 234.55) skewY(0.06)" x="-15.53" font-size="22.5" textLength="31.05" lengthAdjust="spacingAndGlyphs" stroke="#fff" stroke-width="0.25">Jan</text>
<text transform="translate(1184.15 260.78) skewY(0.06)" x="-11.08" font-size="23.1" textLength="22.16" lengthAdjust="spacingAndGlyphs" stroke="#fff" stroke-width="0.25">24</text>
<text transform="translate(1184.35 1729.55) skewY(0.06)" x="-15.53" font-size="22.5" textLength="31.05" lengthAdjust="spacingAndGlyphs" stroke="#fff" stroke-width="0.25">Jan</text>
<text transform="translate(1184.15 1755.78) skewY(0.06)" x="-11.08" font-size="23.1" textLength="22.16" lengthAdjust="spacingAndGlyphs" stroke="#fff" stroke-width="0.25">24</text>
</g>
<g class="leg">
<text transform="translate(1306.39 654.12) skewY(0.06)" x="-11.88" font-size="23.1" textLength="23.75" lengthAdjust="spacingAndGlyphs" stroke="#fff" stroke-width="0.25">50</text>
<text transform="translate(1311.88 578.49) skewY(0.06)" x="-18.00" font-size="23.1" textLength="36.01" lengthAdjust="spacingAndGlyphs" stroke="#fff" stroke-width="0.25">100</text>
<text transform="translate(1311.99 502.86) skewY(0.06)" x="-18.00" font-size="23.1" textLength="36.00" lengthAdjust="spacingAndGlyphs" stroke="#fff" stroke-width="0.25">150</text>
<text transform="translate(1312.32 427.23) skewY(0.06)" x="-17.74" font-size="23.1" textLength="35.48" lengthAdjust="spacingAndGlyphs" stroke="#fff" stroke-width="0.25">200</text>
<text transform="translate(1312.48 351.60) skewY(0.06)" x="-17.86" font-size="23.1" textLength="35.72" lengthAdjust="spacingAndGlyphs" stroke="#fff" stroke-width="0.25">250</text>
<text transform="translate(1282.04 319.10) skewY(0.06)" x="-48.78" font-size="30.0" textLength="97.56" lengthAdjust="spacingAndGlyphs" stroke="#fff" stroke-width="0.30">Sessions</text>
</g>
<defs><linearGradient id="cb" x1="0" y1="1" x2="0" y2="0">
<stop offset="0.0000" stop-color="#3a40c8"/>
<stop offset="0.0947" stop-color="#3e78cd"/>
<stop offset="0.1933" stop-color="#20b8d0"/>
<stop offset="0.2919" stop-color="#58dc98"/>
<stop offset="0.3905" stop-color="#70ff40"/>
<stop offset="0.4892" stop-color="#b0e838"/>
<stop offset="0.5878" stop-color="#e8c030"/>
<stop offset="0.6864" stop-color="#ec8820"/>
<stop offset="0.7850" stop-color="#e04010"/>
<stop offset="0.8836" stop-color="#a61e0c"/>
<stop offset="1.0000" stop-color="#680008"/>
</linearGradient></defs>
<rect x="1233.30" y="336.50" width="46.50" height="384.30" fill="url(#cb)"/>
<g stroke="#fff" stroke-opacity="0.75" stroke-width="1">
<line x1="1233.30" y1="645.92" x2="1242.60" y2="645.92"/>
<line x1="1270.50" y1="645.92" x2="1279.80" y2="645.92"/>
<line x1="1233.30" y1="570.29" x2="1242.60" y2="570.29"/>
<line x1="1270.50" y1="570.29" x2="1279.80" y2="570.29"/>
<line x1="1233.30" y1="494.66" x2="1242.60" y2="494.66"/>
<line x1="1270.50" y1="494.66" x2="1279.80" y2="494.66"/>
<line x1="1233.30" y1="419.03" x2="1242.60" y2="419.03"/>
<line x1="1270.50" y1="419.03" x2="1279.80" y2="419.03"/>
<line x1="1233.30" y1="343.40" x2="1242.60" y2="343.40"/>
<line x1="1270.50" y1="343.40" x2="1279.80" y2="343.40"/>
</g>
</g>
</svg>
</body></html>
